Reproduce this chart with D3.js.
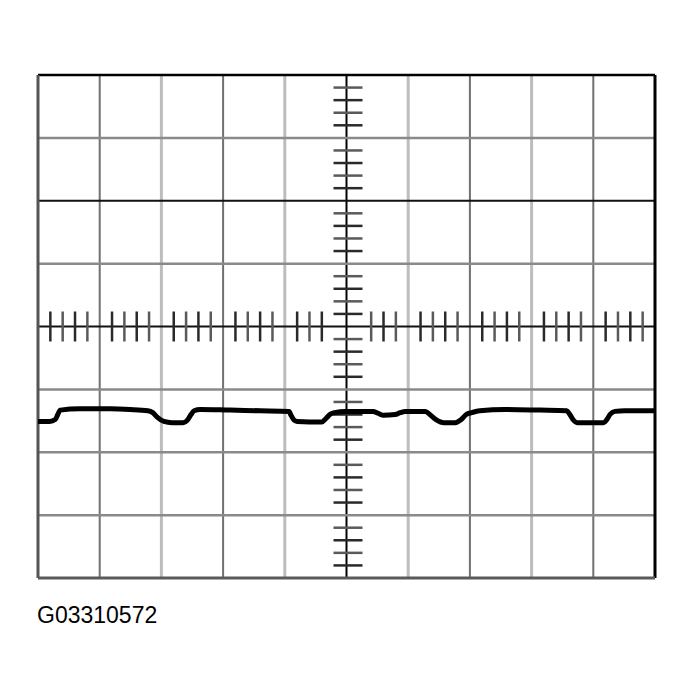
<!DOCTYPE html>
<head>
  <meta charset="utf-8">
  <title>Scope trace G03310572</title>
  <script type="text/javascript" src="https://d3js.org/d3.v7.min.js"></script>
  <style>
    body { margin: 0; background: #fff; }
  </style>
</head>
<body>
<script>
  // screen divisions of the scope (10 across, 8 high)
  var xDivs = [0, 10];
  var yDivs = [-4, 4];
  var minorPerDiv = 5;

  // trace, in divisions
  var traceT = [0.00, 0.19, 0.28, 0.32, 0.36, 0.68, 1.17, 1.49, 1.78, 1.86, 1.94, 2.04, 2.17, 2.35, 2.43, 2.48, 2.53, 2.63,
    3.11, 3.60, 4.07, 4.10, 4.15, 4.20, 4.60, 4.67, 4.73, 4.81, 4.98, 5.43, 5.51, 5.59, 5.79, 5.87, 5.95, 6.28, 6.35, 6.45,
    6.58, 6.76, 6.86, 6.94, 7.03, 7.16, 7.57, 8.14, 8.57, 8.62, 8.67, 8.74, 9.17, 9.22, 9.27, 9.35, 9.51, 10.00];
  var traceV = [-1.51, -1.51, -1.48, -1.40, -1.33, -1.31, -1.31, -1.32, -1.34, -1.37, -1.45, -1.51, -1.53, -1.53, -1.48, -1.40, -1.34, -1.32,
    -1.33, -1.34, -1.35, -1.41, -1.49, -1.51, -1.52, -1.46, -1.40, -1.37, -1.35, -1.35, -1.38, -1.41, -1.40, -1.37, -1.35, -1.35, -1.40, -1.48,
    -1.53, -1.53, -1.48, -1.40, -1.37, -1.34, -1.32, -1.33, -1.34, -1.40, -1.48, -1.53, -1.53, -1.48, -1.40, -1.35, -1.34, -1.34];

  var caption = "G03310572";

  var svg = d3.select("body").append("svg")
    .attr("width", 695)
    .attr("height", 699);

  var x = d3.scaleLinear().domain(xDivs).range([38, 655]);
  var y = d3.scaleLinear().domain(yDivs).range([578, 75]);

  // grid lines, alternating dark / light like the graticule print
  var vLines = d3.range(xDivs[0] + 1, xDivs[1]);
  svg.append("g").selectAll("line").data(vLines).enter().append("line")
    .attr("x1", function(d) { return x(d); })
    .attr("x2", function(d) { return x(d); })
    .attr("y1", y(yDivs[1]))
    .attr("y2", y(yDivs[0]))
    .attr("stroke", function(d) { return d == 5 ? "#000" : (d % 2 ? "#707070" : "#bdbdbd"); })
    .attr("stroke-width", function(d) { return d == 5 ? 2 : (d % 2 ? 2 : 3); });

  var hLines = d3.range(yDivs[0] + 1, yDivs[1]);
  svg.append("g").selectAll("line").data(hLines).enter().append("line")
    .attr("y1", function(d) { return y(d); })
    .attr("y2", function(d) { return y(d); })
    .attr("x1", x(xDivs[0]))
    .attr("x2", x(xDivs[1]))
    .attr("stroke", function(d) { return (d == 0 || d == 2) ? "#111" : "#8a8a8a"; })
    .attr("stroke-width", function(d) { return (d == 0 || d == 2) ? 2 : 2.5; });

  // minor ticks on the centre cross
  var xMinor = d3.range(xDivs[0] * minorPerDiv, xDivs[1] * minorPerDiv + 1)
    .filter(function(i) { return i % minorPerDiv != 0 && Math.abs(i - 25) != 1; })
    .map(function(i) { return i / minorPerDiv; });
  svg.append("g").selectAll("line").data(xMinor).enter().append("line")
    .attr("x1", function(d) { return x(d); })
    .attr("x2", function(d) { return x(d); })
    .attr("y1", y(0) - 15)
    .attr("y2", y(0) + 15)
    .attr("stroke", function(d, i) { return i % 2 ? "#5a5a5a" : "#2a2a2a"; })
    .attr("stroke-width", 2.5);

  var yMinor = d3.range(yDivs[0] * minorPerDiv, yDivs[1] * minorPerDiv + 1)
    .filter(function(i) { return i % minorPerDiv != 0; })
    .map(function(i) { return i / minorPerDiv; });
  svg.append("g").selectAll("line").data(yMinor).enter().append("line")
    .attr("y1", function(d) { return y(d); })
    .attr("y2", function(d) { return y(d); })
    .attr("x1", x(5) - 13)
    .attr("x2", x(5) + 16)
    .attr("stroke", function(d, i) { return i % 2 ? "#5a5a5a" : "#2a2a2a"; })
    .attr("stroke-width", 2.5);

  // frame
  var frame = svg.append("g");
  frame.append("line").attr("x1", x(0)).attr("x2", x(10)).attr("y1", y(4)).attr("y2", y(4))
    .attr("stroke", "#000").attr("stroke-width", 2.5);
  frame.append("line").attr("x1", x(10)).attr("x2", x(10)).attr("y1", y(4)).attr("y2", y(-4))
    .attr("stroke", "#000").attr("stroke-width", 3);
  frame.append("line").attr("x1", x(0)).attr("x2", x(0)).attr("y1", y(4)).attr("y2", y(-4))
    .attr("stroke", "#555").attr("stroke-width", 3);
  frame.append("line").attr("x1", x(0)).attr("x2", x(10)).attr("y1", y(-4)).attr("y2", y(-4))
    .attr("stroke", "#5a5a5a").attr("stroke-width", 3);

  // the trace
  var line = d3.line()
    .x(function(d) { return x(d[0]); })
    .y(function(d) { return y(d[1]); })
    .curve(d3.curveMonotoneX);
  svg.append("path")
    .datum(d3.zip(traceT, traceV))
    .attr("d", line)
    .attr("fill", "none")
    .attr("stroke", "#000")
    .attr("stroke-width", 5)
    .attr("stroke-linejoin", "round");

  svg.append("text")
    .attr("x", 37)
    .attr("y", 623)
    .attr("font-family", "Liberation Sans, Arial, sans-serif")
    .attr("font-size", 23)
    .attr("fill", "#000")
    .text(caption);
</script>
</body>
